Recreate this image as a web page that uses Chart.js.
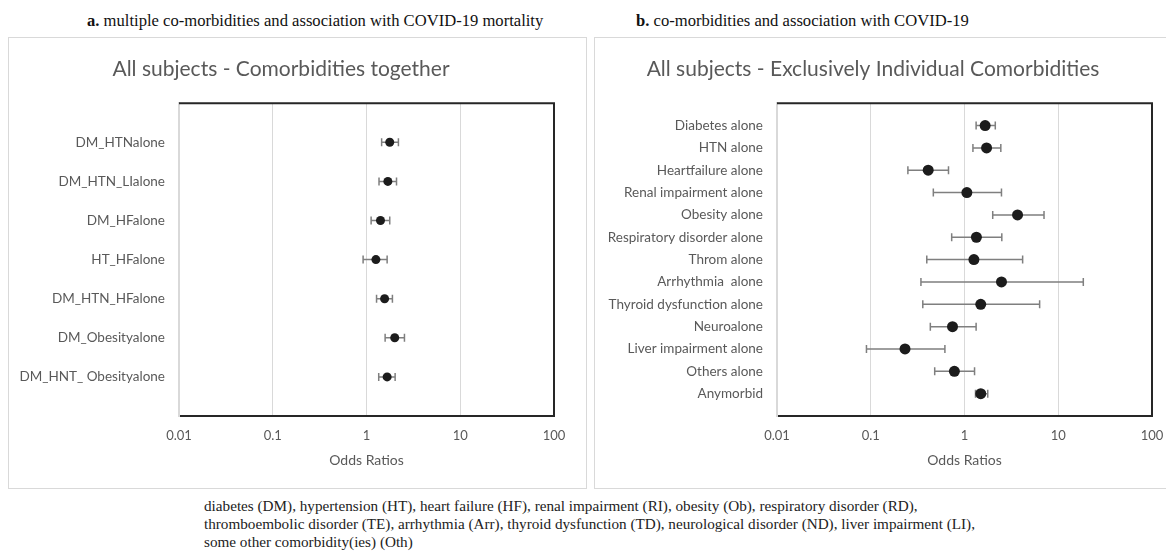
<!DOCTYPE html>
<html>
<head>
<meta charset="utf-8">
<script src="https://cdn.jsdelivr.net/npm/chart.js@4.4.1/dist/chart.umd.min.js"></script>
<style>
  body { margin: 0; background: #fff; width: 1166px; height: 552px; overflow: hidden; position: relative; }
  .panel { position: absolute; top: 37px; height: 450px; border: 1px solid #d9d9d9; box-sizing: content-box; }
  .cap { position: absolute; top: 11px; font-family: "Liberation Serif", serif; font-size: 16.6px; line-height: 20px; color: #111; white-space: nowrap; }
  .note { position: absolute; left: 204px; top: 497px; font-family: "Liberation Serif", serif; font-size: 15.2px; line-height: 18px; color: #222; white-space: nowrap; }
  canvas { position: absolute; }
</style>
</head>
<body>
<div class="cap" style="left:87px"><b>a.</b> multiple co-morbidities and association with COVID-19 mortality</div>
<div class="cap" style="left:636px"><b>b.</b> co-morbidities and association with COVID-19</div>

<div class="panel" style="left:8px;width:577px"></div>
<div class="panel" style="left:594px;width:600px"></div>
<canvas id="chartA" style="left:8px;top:37px"></canvas>
<canvas id="chartB" style="left:594px;top:37px"></canvas>

<div class="note">diabetes (DM), hypertension (HT), heart failure (HF), renal impairment (RI), obesity (Ob), respiratory disorder (RD),<br>
thromboembolic disorder (TE), arrhythmia (Arr), thyroid dysfunction (TD), neurological disorder (ND), liver impairment (LI),<br>
some other comorbidity(ies) (Oth)</div>

<script>
// panel a
let labelsA = ["DM_HTNalone", "DM_HTN_LIalone", "DM_HFalone", "HT_HFalone", "DM_HTN_HFalone", "DM_Obesityalone", "DM_HNT_ Obesityalone"];
let orA   = [1.77, 1.69, 1.41, 1.26, 1.56, 2.00, 1.66];
let lowA  = [1.45, 1.36, 1.12, 0.92, 1.28, 1.58, 1.35];
let highA = [2.19, 2.09, 1.77, 1.66, 1.89, 2.54, 2.02];

// panel b
let labelsB = ["Diabetes alone", "HTN alone", "Heartfailure alone", "Renal impairment alone", "Obesity alone", "Respiratory disorder alone", "Throm alone", "Arrhythmia  alone", "Thyroid dysfunction alone", "Neuroalone", "Liver impairment alone", "Others alone", "Anymorbid"];
let orB   = [1.66, 1.72, 0.41, 1.06, 3.68, 1.34, 1.26, 2.48, 1.49, 0.745, 0.232, 0.78, 1.49];
let lowB  = [1.33, 1.23, 0.249, 0.465, 2.00, 0.73, 0.396, 0.343, 0.359, 0.432, 0.090, 0.481, 1.31];
let highB = [2.13, 2.44, 0.675, 2.48, 7.05, 2.50, 4.17, 18.5, 6.33, 1.33, 0.618, 1.28, 1.77];

let xTicks = [0.01, 0.1, 1, 10, 100];
let xTickText = ["0.01", "0.1", "1", "10", "100"];

const GREY = "#595959";
const FONT = "Lato, 'Open Sans', sans-serif";

// whiskers drawn under the dots
const errorBars = {
  id: "errorBars",
  beforeDatasetsDraw(chart) {
    let ctx = chart.ctx;
    let xs = chart.scales.x, ys = chart.scales.y;
    let lo = chart.options.plugins.errorBars.low;
    let hi = chart.options.plugins.errorBars.high;
    ctx.save();
    ctx.strokeStyle = "#7f7f7f";
    ctx.lineWidth = 1.5;
    for (let i = 0; i < lo.length; i++) {
      let y = ys.getPixelForValue(i + 1);
      let x1 = xs.getPixelForValue(lo[i]);
      let x2 = xs.getPixelForValue(hi[i]);
      ctx.beginPath();
      ctx.moveTo(x1, y); ctx.lineTo(x2, y);
      ctx.moveTo(x1, y - 4); ctx.lineTo(x1, y + 4);
      ctx.moveTo(x2, y - 4); ctx.lineTo(x2, y + 4);
      ctx.stroke();
    }
    ctx.restore();
  }
};

// black frame on top and right of plot area
const frame = {
  id: "frame",
  afterDatasetsDraw(chart) {
    let a = chart.chartArea, ctx = chart.ctx;
    ctx.save();
    ctx.strokeStyle = "#262626";
    ctx.lineWidth = 2;
    ctx.beginPath();
    ctx.moveTo(a.left, a.top); ctx.lineTo(a.right, a.top); ctx.lineTo(a.right, a.bottom);
    ctx.stroke();
    ctx.restore();
  }
};

function makeChart(id, w, h, title, labels, or, low, high, yWidth, radius) {
  let cv = document.getElementById(id);
  cv.width = w; cv.height = h;
  cv.style.width = w + "px"; cv.style.height = h + "px";
  return new Chart(cv, {
    type: "scatter",
    data: {
      datasets: [{
        data: or.map((v, i) => ({ x: v, y: i + 1 })),
        backgroundColor: "#1c1c1c",
        borderWidth: 0,
        pointRadius: radius,
        pointHoverRadius: radius
      }]
    },
    options: {
      responsive: false,
      animation: false,
      layout: { padding: { left: 0, right: w - yWidth - 375, top: 0, bottom: 0 } },
      plugins: {
        legend: { display: false },
        tooltip: { enabled: false },
        title: {
          display: true, text: title, color: GREY,
          font: { family: FONT, size: 21, weight: "normal" },
          padding: { top: 20, bottom: 21 }
        },
        errorBars: { low: low, high: high }
      },
      scales: {
        x: {
          type: "logarithmic", min: 0.01, max: 100,
          afterBuildTicks: s => { s.ticks = xTicks.map(v => ({ value: v })); },
          afterFit: s => { s.height = 73; },
          ticks: {
            color: GREY, font: { family: FONT, size: 13 }, padding: 12,
            callback: (v) => xTickText[xTicks.indexOf(v)]
          },
          grid: { color: "#d9d9d9", lineWidth: 1, drawTicks: false },
          border: { color: "#262626", width: 2 },
          title: {
            display: true, text: "Odds Ratios", color: GREY,
            font: { family: FONT, size: 14 }, padding: { top: 0, bottom: 20 }
          }
        },
        y: {
          type: "linear", min: 0, max: labels.length + 1, reverse: true,
          afterBuildTicks: s => { s.ticks = labels.map((l, i) => ({ value: i + 1 })); },
          afterFit: s => { s.width = yWidth; },
          ticks: {
            color: GREY, font: { family: FONT, size: 13.5 }, padding: 14,
            callback: (v) => labels[v - 1]
          },
          grid: { display: false, drawTicks: false },
          border: { color: "#d9d9d9", width: 2 }
        }
      }
    },
    plugins: [errorBars, frame]
  });
}

makeChart("chartA", 579, 452, "All subjects - Comorbidities together", labelsA, orA, lowA, highA, 171, 4.5);
makeChart("chartB", 584, 452, "All subjects - Exclusively Individual Comorbidities", labelsB, orB, lowB, highB, 183, 5.5);
</script>
</body>
</html>
